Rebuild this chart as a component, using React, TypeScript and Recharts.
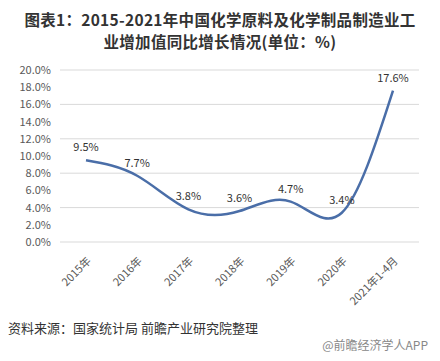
import React from 'react';
import { LineChart, Line, XAxis, YAxis, CartesianGrid, LabelList } from 'recharts';

const years = ['2015年', '2016年', '2017年', '2018年', '2019年', '2020年', '2021年1-4月'];
const growth = [9.5, 7.7, 3.8, 3.6, 4.7, 3.4, 17.6];
const yTicks = [0, 2, 4, 6, 8, 10, 12, 14, 16, 18, 20];

const data = years.map((year, i) => ({ year, value: growth[i] }));

const FONT = '"Noto Sans CJK SC", "Noto Sans", sans-serif';

const XTick = (props: any) => {
  const { x, y, payload } = props;
  return (
    <g transform={`translate(${x},${y + 6})`}>
      <text x={0} y={0} dy={8} textAnchor="end" transform="rotate(-45)" fill="#595959" fontSize={11} fontFamily={FONT}>
        {payload.value}
      </text>
    </g>
  );
};

export default function App() {
  return (
    <div style={{ position: 'relative', width: 440, height: 361, margin: -8, background: '#fff', fontFamily: FONT, overflow: 'hidden' }}>
      <div style={{ position: 'absolute', top: 8, left: 0, width: 440, textAlign: 'center', fontWeight: 'bold', fontSize: 15.5, lineHeight: '22px', color: '#333', letterSpacing: 0.3 }}>
        <div>图表1：2015-2021年中国化学原料及化学制品制造业工</div>
        <div>业增加值同比增长情况(单位：%)</div>
      </div>
      <div style={{ position: 'absolute', top: 50, left: 0 }}>
        <LineChart width={440} height={260} data={data} margin={{ top: 20, right: 21, left: 5, bottom: 8 }}>
          <CartesianGrid vertical={false} stroke="#d9d9d9" />
          <XAxis
            dataKey="year"
            axisLine={false}
            tickLine={false}
            interval={0}
            height={60}
            padding={{ left: 26, right: 26 }}
            tick={<XTick />}
          />
          <YAxis
            domain={[0, 20]}
            ticks={yTicks}
            width={55}
            axisLine={false}
            tickLine={false}
            tickSize={0}
            tickMargin={9}
            tickFormatter={(v: number) => `${v.toFixed(1)}%`}
            tick={{ fill: '#595959', fontSize: 11, fontFamily: FONT }}
          />
          <Line type="natural" dataKey="value" stroke="#4a6ea8" strokeWidth={2.5} dot={false} isAnimationActive={false}>
            <LabelList dataKey="value" position="top" offset={9} formatter={(v: number) => `${v}%`} fill="#333" fontSize={11} fontFamily={FONT} />
          </Line>
        </LineChart>
      </div>
      <div style={{ position: 'absolute', top: 319, left: 8, fontSize: 13, lineHeight: '18px', color: '#333' }}>
        资料来源：国家统计局 前瞻产业研究院整理
      </div>
      <div style={{ position: 'absolute', top: 338, right: 12, fontSize: 12, lineHeight: '14px', color: '#888' }}>
        @前瞻经济学人APP
      </div>
    </div>
  );
}
